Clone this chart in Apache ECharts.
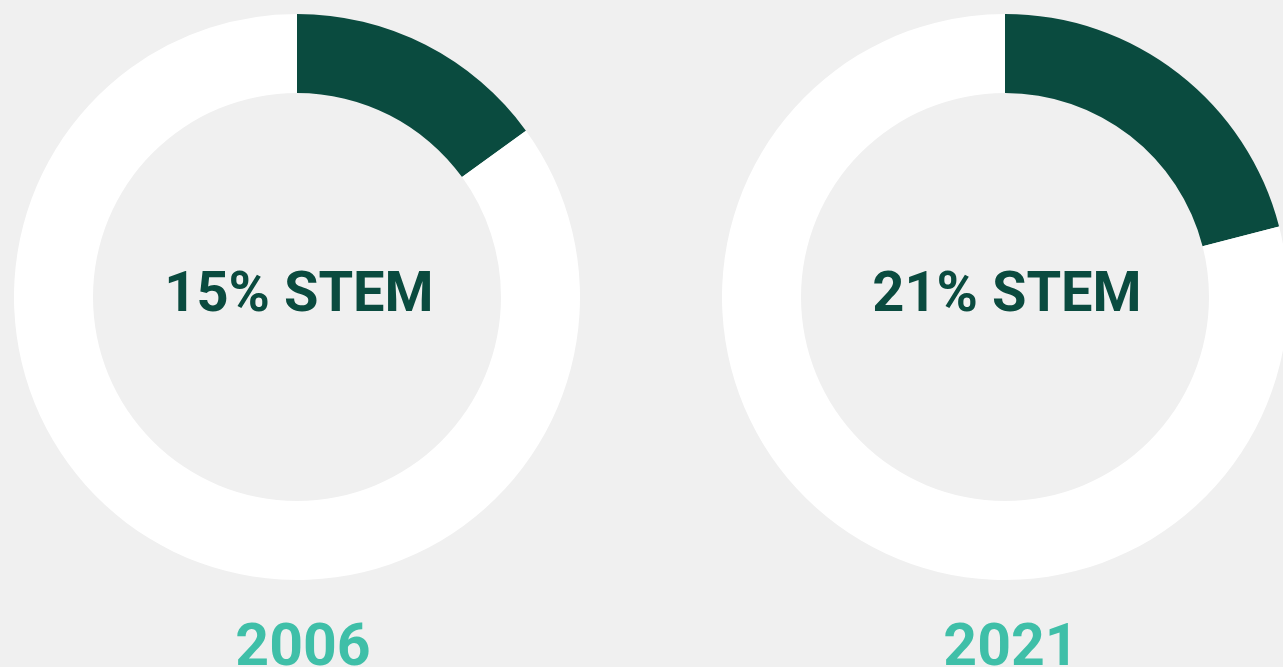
<!DOCTYPE html>
<html>
<head>
<meta charset="utf-8">
<script src="https://cdn.jsdelivr.net/npm/echarts@6/dist/echarts.min.js"></script>
<style>
  html, body { margin: 0; padding: 0; background: #f0f0f0; }
  #chart { width: 1283px; height: 667px; }
</style>
</head>
<body>
<div id="chart"></div>
<script>
const years = ['2006', '2021']
const stemShares = [15, 21]
const otherShares = [85, 79]
const centersX = [297, 1005]

const chartDom = document.getElementById('chart')
const myChart = echarts.init(chartDom)

const series = years.map((year, i) => ({
    name: year,
    type: 'pie',
    center: [centersX[i], 297],
    radius: [204, 283],
    startAngle: 90,
    clockwise: true,
    silent: true,
    labelLine: { show: false },
    data: [
        {
            name: 'STEM',
            value: stemShares[i],
            itemStyle: { color: '#0a4b3f' },
            label: {
                show: true,
                position: 'center',
                formatter: stemShares[i] + '% STEM',
                fontFamily: 'Roboto',
                fontWeight: 'bold',
                fontSize: 56,
                color: '#0a4b3f',
                padding: [9, 0, 0, 4]
            }
        },
        {
            name: 'Other',
            value: otherShares[i],
            itemStyle: { color: '#ffffff' },
            label: { show: false }
        }
    ]
}))

const option = {
    backgroundColor: '#f0f0f0',
    animation: false,
    series: series,
    graphic: years.map((year, i) => ({
        type: 'text',
        x: centersX[i] + 6,
        y: 650,
        style: {
            text: year,
            align: 'center',
            verticalAlign: 'middle',
            fontFamily: 'Roboto',
            fontWeight: 'bold',
            fontSize: 59,
            fill: '#3fbfa8'
        }
    }))
}
myChart.setOption(option)
</script>
</body>
</html>
